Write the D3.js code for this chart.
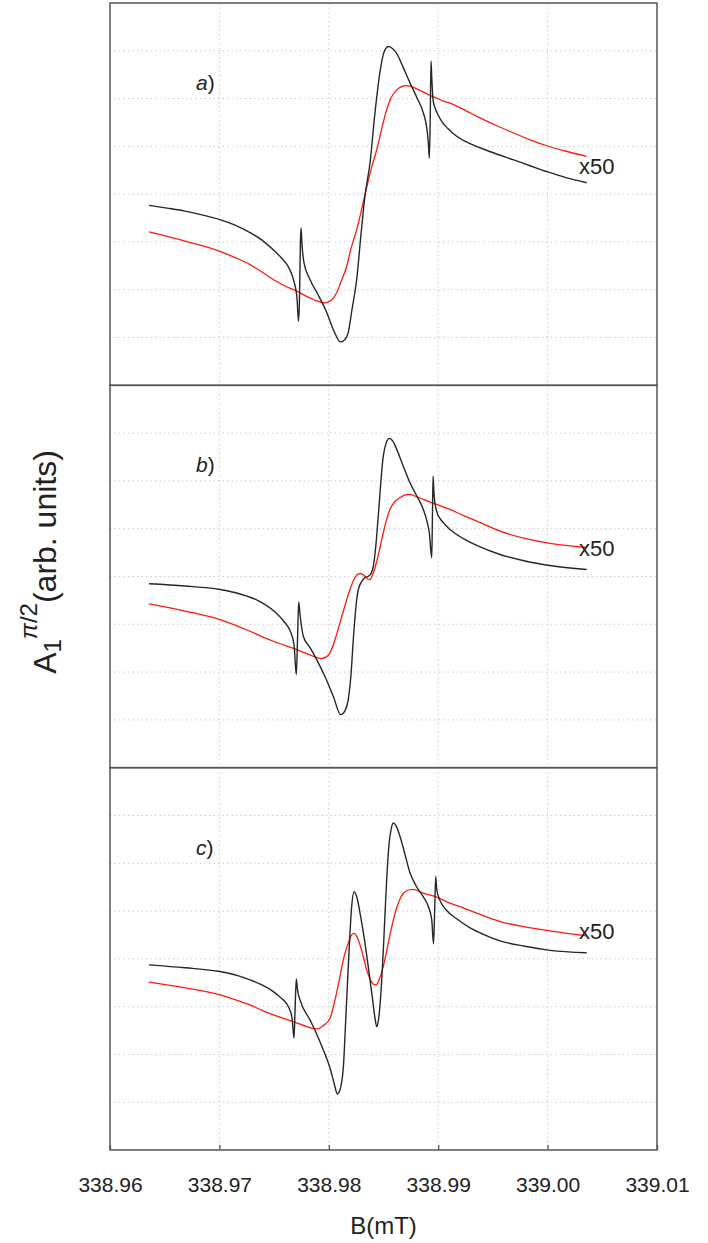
<!DOCTYPE html>
<html>
<head>
<meta charset="utf-8">
<script src="https://cdn.jsdelivr.net/npm/d3@7"></script>
<style>
  body { margin: 0; background: #fff; }
  svg { display: block; }
</style>
</head>
<body>
<svg id="chart" width="708" height="1243"></svg>
<script>
// Magnetic field axis (mT)
const xTicks = [338.96, 338.97, 338.98, 338.99, 339.00, 339.01];
const yGrid = [-3, -2, -1, 0, 1, 2, 3];
const panelLetters = ["a", "b", "c"];
const gainLabel = "x50";

// Panel a — black trace
const bBlackA = [338.96357,338.96521,338.96686,338.96850,338.97005,338.97143,338.97280,338.97389,338.97490,338.97572,338.97627,338.97682,338.97709,338.97723,338.97732,338.97741,338.97746,338.97755,338.97773,338.97828,338.97901,338.97981,338.98048,338.98107,338.98148,338.98178,338.98212,338.98255,338.98294,338.98331,338.98377,338.98422,338.98468,338.98505,338.98546,338.98587,338.98623,338.98678,338.98742,338.98806,338.98864,338.98898,338.98911,338.98919,338.98927,338.98934,338.98942,338.98953,338.98971,338.98998,338.99035,338.99090,338.99163,338.99254,338.99382,338.99528,338.99684,338.99839,338.99994,339.00168,339.00357];
const blackA = [-0.234,-0.292,-0.355,-0.439,-0.533,-0.648,-0.804,-0.961,-1.159,-1.347,-1.508,-1.828,-2.162,-2.663,-2.204,-0.950,-0.706,-1.055,-1.431,-1.786,-2.099,-2.475,-2.872,-3.091,-3.039,-2.893,-2.413,-1.786,-0.846,-0.031,0.658,1.702,2.559,2.976,3.091,3.039,2.935,2.663,2.329,2.016,1.702,1.347,1.034,0.752,1.556,2.789,2.392,1.974,1.807,1.661,1.514,1.368,1.222,1.097,0.971,0.846,0.721,0.595,0.470,0.345,0.240];

// Panel a — red trace (x50)
const bRedA = [338.96357,338.96686,338.97005,338.97143,338.97280,338.97389,338.97493,338.97600,338.97707,338.97858,338.97965,338.98020,338.98072,338.98112,338.98164,338.98203,338.98255,338.98331,338.98386,338.98438,338.98477,338.98529,338.98569,338.98621,338.98660,338.98706,338.98751,338.98803,338.98861,338.98925,338.98989,338.99044,338.99135,338.99291,338.99382,338.99537,338.99684,338.99839,338.99994,339.00168,339.00357];
const redA = [-0.790,-0.982,-1.195,-1.326,-1.473,-1.629,-1.786,-1.922,-2.030,-2.204,-2.273,-2.225,-2.064,-1.828,-1.508,-1.138,-0.742,-0.010,0.512,0.930,1.305,1.765,2.016,2.183,2.245,2.273,2.256,2.204,2.141,2.068,2.005,1.953,1.880,1.702,1.598,1.431,1.285,1.138,1.013,0.898,0.790];

// Panel b — black trace
const bBlackB = [338.96357,338.96686,338.97005,338.97188,338.97353,338.97493,338.97590,338.97645,338.97682,338.97703,338.97714,338.97725,338.97737,338.97767,338.97828,338.97889,338.97965,338.98041,338.98109,338.98148,338.98178,338.98203,338.98224,338.98255,338.98270,338.98301,338.98331,338.98361,338.98386,338.98407,338.98431,338.98452,338.98498,338.98523,338.98553,338.98587,338.98621,338.98678,338.98742,338.98806,338.98864,338.98898,338.98919,338.98941,338.98947,338.98953,338.98962,338.98986,338.99016,338.99062,338.99108,338.99227,338.99352,338.99565,338.99793,339.00022,339.00357];
const blackB = [-0.153,-0.199,-0.272,-0.366,-0.503,-0.712,-0.942,-1.131,-1.424,-2.052,-1.319,-0.530,-0.796,-1.250,-1.487,-1.738,-2.094,-2.507,-2.890,-2.806,-2.576,-2.052,-1.319,-0.482,-0.272,-0.105,-0.021,0.006,0.063,0.216,0.670,1.263,2.519,2.785,2.890,2.827,2.660,2.325,1.962,1.675,1.403,1.152,0.915,0.392,1.194,2.101,1.717,1.361,1.215,1.089,0.984,0.796,0.649,0.461,0.325,0.230,0.147];

// Panel b — red trace (x50)
const bRedB = [338.96357,338.96686,338.97005,338.97143,338.97280,338.97389,338.97493,338.97707,338.97858,338.97926,338.97974,338.98011,338.98057,338.98102,338.98148,338.98194,338.98230,338.98270,338.98294,338.98322,338.98349,338.98377,338.98404,338.98438,338.98468,338.98498,338.98529,338.98559,338.98605,338.98651,338.98687,338.98736,338.98797,338.98864,338.98986,338.99108,338.99227,338.99352,338.99565,338.99793,339.00022,339.00357];
const redB = [-0.572,-0.723,-0.901,-1.016,-1.146,-1.257,-1.355,-1.529,-1.669,-1.717,-1.686,-1.598,-1.319,-0.970,-0.607,-0.272,-0.063,0.057,0.063,0.021,-0.042,-0.063,0.063,0.314,0.607,0.915,1.194,1.403,1.571,1.648,1.696,1.717,1.675,1.613,1.508,1.403,1.277,1.158,0.949,0.796,0.691,0.607];

// Panel c — black trace
const bBlackC = [338.96357,338.96686,338.97005,338.97161,338.97280,338.97389,338.97493,338.97563,338.97630,338.97664,338.97682,338.97693,338.97703,338.97714,338.97737,338.97828,338.97889,338.97950,338.98011,338.98048,338.98078,338.98102,338.98133,338.98157,338.98178,338.98209,338.98230,338.98258,338.98285,338.98322,338.98361,338.98395,338.98422,338.98438,338.98454,338.98484,338.98505,338.98529,338.98550,338.98569,338.98590,338.98614,338.98651,338.98697,338.98742,338.98797,338.98864,338.98907,338.98941,338.98957,338.98968,338.98977,338.98986,338.99003,338.99026,338.99071,338.99169,338.99291,338.99412,338.99565,338.99793,339.00022,339.00357];
const blackC = [-0.126,-0.188,-0.266,-0.346,-0.440,-0.545,-0.685,-0.817,-0.999,-1.236,-1.661,-0.963,-0.419,-0.649,-0.859,-1.277,-1.571,-1.906,-2.283,-2.597,-2.827,-2.743,-2.262,-1.173,-0.168,1.089,1.403,1.277,0.963,0.461,-0.168,-0.754,-1.236,-1.418,-1.277,-0.440,0.503,1.654,2.387,2.702,2.842,2.785,2.561,2.178,1.801,1.529,1.298,1.110,0.817,0.314,1.026,1.724,1.466,1.298,1.173,1.026,0.838,0.649,0.513,0.377,0.262,0.178,0.126];

// Panel c — red trace (x50)
const bRedC = [338.96357,338.96686,338.97005,338.97143,338.97280,338.97389,338.97493,338.97675,338.97798,338.97846,338.97895,338.97947,338.98011,338.98057,338.98102,338.98139,338.98178,338.98203,338.98230,338.98258,338.98285,338.98315,338.98346,338.98377,338.98404,338.98431,338.98459,338.98495,338.98529,338.98569,338.98621,338.98660,338.98712,338.98772,338.98815,338.98864,338.98986,338.99108,338.99227,338.99352,338.99565,338.99793,339.00022,339.00357];
const redC = [-0.488,-0.607,-0.754,-0.854,-0.963,-1.079,-1.173,-1.313,-1.418,-1.455,-1.466,-1.403,-1.242,-0.859,-0.371,0.042,0.329,0.482,0.534,0.461,0.293,0.048,-0.230,-0.419,-0.524,-0.545,-0.440,-0.188,0.168,0.607,1.068,1.298,1.424,1.455,1.424,1.376,1.292,1.166,1.068,0.957,0.781,0.670,0.586,0.482];

const panels = [
  { letter: panelLetters[0], black: [bBlackA, blackA], red: [bRedA, redA] },
  { letter: panelLetters[1], black: [bBlackB, blackB], red: [bRedB, redB] },
  { letter: panelLetters[2], black: [bBlackC, blackC], red: [bRedC, redC] }
];

const FONT = "'Liberation Sans', Arial, Helvetica, sans-serif";
const plotLeft = 110, plotRight = 657, plotTop = 3, plotBottom = 1150;
const panelH = (plotBottom - plotTop) / panels.length;

const svg = d3.select("#chart");
const x = d3.scaleLinear()
  .domain([xTicks[0], xTicks[xTicks.length - 1]])
  .range([plotLeft, plotRight]);

const zip = (xs, ys) => xs.map((b, i) => [b, ys[i]]);

panels.forEach((p, i) => {
  const y0 = plotTop + i * panelH;
  const y = d3.scaleLinear().domain([-4, 4]).range([y0 + panelH, y0]);
  const g = svg.append("g");

  // dotted grid
  g.selectAll(".hg").data(yGrid).join("line")
    .attr("x1", plotLeft).attr("x2", plotRight)
    .attr("y1", d => y(d)).attr("y2", d => y(d))
    .attr("stroke", "#c4c4c4").attr("stroke-width", 1)
    .attr("stroke-dasharray", "1.3,3.2");
  g.selectAll(".vg").data(xTicks.slice(1, -1)).join("line")
    .attr("x1", d => x(d)).attr("x2", d => x(d))
    .attr("y1", y0).attr("y2", y0 + panelH)
    .attr("stroke", "#c4c4c4").attr("stroke-width", 1)
    .attr("stroke-dasharray", "1.3,3.2");

  const line = d3.line()
    .x(d => x(d[0])).y(d => y(d[1]))
    .curve(d3.curveMonotoneX);

  g.append("path").datum(zip(p.red[0], p.red[1]))
    .attr("d", line).attr("fill", "none")
    .attr("stroke", "#ff1a0a").attr("stroke-width", 1.3);
  g.append("path").datum(zip(p.black[0], p.black[1]))
    .attr("d", line).attr("fill", "none")
    .attr("stroke", "#262626").attr("stroke-width", 1.4);

  // panel letter
  const lt = g.append("text")
    .attr("x", 196).attr("y", y0 + 87)
    .attr("font-family", FONT).attr("font-size", 21).attr("fill", "#222");
  lt.append("tspan").attr("font-style", "italic").text(p.letter);
  lt.append("tspan").text(")");

  // gain factor next to the red trace
  g.append("text")
    .attr("x", 579).attr("y", y0 + 171)
    .attr("font-family", FONT).attr("font-size", 22).attr("fill", "#222")
    .text(gainLabel);

  // frame
  g.append("rect")
    .attr("x", plotLeft).attr("y", y0)
    .attr("width", plotRight - plotLeft).attr("height", panelH)
    .attr("fill", "none").attr("stroke", "#555").attr("stroke-width", 1.5);
});

// bottom axis with inward ticks
const axis = d3.axisBottom(x)
  .tickValues(xTicks)
  .tickFormat(d3.format(".2f"))
  .tickSizeInner(-5).tickSizeOuter(0).tickPadding(27);
const ax = svg.append("g").attr("transform", `translate(0,${plotBottom})`).call(axis);
ax.select(".domain").remove();
ax.selectAll(".tick line").attr("stroke", "#555").attr("stroke-width", 1.3);
ax.selectAll(".tick text")
  .attr("font-family", FONT).attr("font-size", 21).attr("fill", "#222");

// axis titles
svg.append("text")
  .attr("x", (plotLeft + plotRight) / 2).attr("y", 1234)
  .attr("text-anchor", "middle")
  .attr("font-family", FONT).attr("font-size", 24).attr("fill", "#222")
  .text("B(mT)");

const yl = svg.append("text")
  .attr("transform", `translate(56,562) rotate(-90)`)
  .attr("text-anchor", "middle")
  .attr("font-family", FONT).attr("font-size", 32).attr("fill", "#222");
yl.append("tspan").text("A");
yl.append("tspan").attr("font-size", 24).attr("dy", 5).text("1");
yl.append("tspan").attr("font-size", 24).attr("dy", -24).attr("font-style", "italic").text("π");
yl.append("tspan").attr("font-size", 24).text("/2");
yl.append("tspan").attr("dy", 19).text("(arb. units)");
</script>
</body>
</html>
